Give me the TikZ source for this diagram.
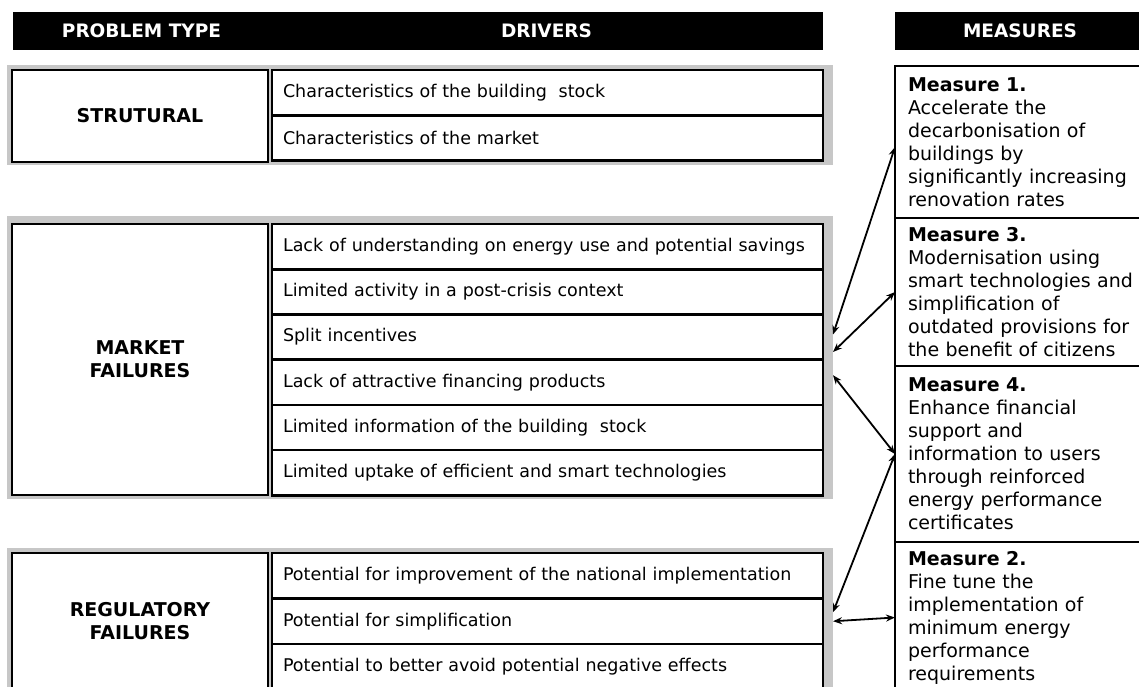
\documentclass[tikz,border=0pt]{standalone}
\usepackage{fontspec}
\setmainfont{DejaVu Sans}
\usetikzlibrary{positioning,calc,arrows.meta,backgrounds}
\tikzset{>={Stealth[length=9pt,width=7pt]}}
\tikzset{
  headbar/.style={fill=black,text=white,font=\fontsize{18.5}{22}\selectfont\bfseries,
    minimum height=38pt,inner sep=0pt,outer sep=0pt,anchor=north west},
  typebox/.style={draw,fill=white,line width=2.6pt,minimum width=256pt,inner sep=0pt,outer sep=0pt,
    align=center,font=\fontsize{19}{23}\selectfont\bfseries,anchor=north west},
  driver/.style={draw,fill=white,line width=2.6pt,minimum height=45.2pt,text width=529pt,
    inner xsep=11pt,inner ysep=0pt,outer sep=0pt,align=left,font=\fontsize{17.5}{21}\selectfont},
  measure/.style={draw,fill=white,line width=1.4pt,text width=225pt,inner xsep=13pt,inner ysep=0pt,
    outer sep=0pt,align=left,font=\fontsize{19}{23}\selectfont},
  groupbg/.style={fill=black!22},
  link/.style={<->,line width=1.8pt}
}
\begin{document}
\begin{tikzpicture}[x=1pt,y=-1pt]
\useasboundingbox (0,0) rectangle (1139,686);
\clip (0,0) rectangle (1139,686);
% column heads
\node[headbar,minimum width=257pt] (hprob) at (13,12) {PROBLEM TYPE};
\node[headbar,minimum width=553pt,right=0pt of hprob] (hdrv) {DRIVERS};
\node[headbar,minimum width=250pt] (hmeas) at (895,12) {MEASURES};
% structural
\node[typebox,minimum height=92pt] (strbox) at (12,70) {STRUTURAL};
\node[driver,anchor=north west] (sd1) at (272,70) {Characteristics of the building\ \ stock};
\node[driver,below=0pt of sd1] (sd2) {Characteristics of the market};
% market failures
\node[typebox,minimum height=271pt] (mktbox) at (12,224) {MARKET\\FAILURES};
\node[driver,anchor=north west] (md1) at (272,224) {Lack of understanding on energy use and potential savings};
\node[driver,below=0pt of md1] (md2) {Limited activity in a post-crisis context};
\node[driver,below=0pt of md2] (md3) {Split incentives};
\node[driver,below=0pt of md3] (md4) {Lack of attractive financing products};
\node[driver,below=0pt of md4] (md5) {Limited information of the building\ \ stock};
\node[driver,below=0pt of md5] (md6) {Limited uptake of efficient and smart technologies};
% regulatory failures
\node[typebox,minimum height=137pt] (regbox) at (12,553) {REGULATORY\\FAILURES};
\node[driver,anchor=north west,minimum height=45.5pt] (rd1) at (272,553) {Potential for improvement of the national implementation};
\node[driver,below=0pt of rd1,minimum height=45.5pt] (rd2) {Potential for simplification};
\node[driver,below=0pt of rd2,minimum height=45.5pt] (rd3) {Potential to better avoid potential negative effects};
% grey frames
\begin{scope}[on background layer]
\fill[groupbg] ($(strbox.north west)+(-5,-5)$) rectangle ($(sd2.south east)+(10,5)$);
\fill[groupbg] ($(mktbox.north west)+(-5,-8)$) rectangle ($(md6.south east)+(10,4)$);
\fill[groupbg] ($(regbox.north west)+(-5,-5)$) rectangle ($(rd3.south east)+(10,5)$);
\end{scope}
% measures
\node[measure,anchor=north west,minimum height=152pt] (m1) at (895,66)
  {\textbf{Measure 1.}\\Accelerate the\\decarbonisation of\\buildings by\\significantly increasing\\renovation rates};
\node[measure,below=0pt of m1,minimum height=148pt] (m3)
  {\textbf{Measure 3.}\\Modernisation using\\smart technologies and\\simplification of\\outdated provisions for\\the benefit of citizens};
\node[measure,below=0pt of m3,minimum height=176pt] (m4)
  {\textbf{Measure 4.}\\Enhance financial\\support and\\information to users\\through reinforced\\energy performance\\certificates};
\node[measure,below=0pt of m4,minimum height=151pt] (m2)
  {\textbf{Measure 2.}\\Fine tune the\\implementation of\\minimum energy\\performance\\requirements};
% links
\draw[link] ([yshift=-5pt]m1.west) -- ([xshift=10pt,yshift=2.5pt]md3.east);
\draw[link] (m3.west) -- ([xshift=10pt,yshift=-15pt]md3.east);
\draw[link] (m4.west) -- ([xshift=10pt,yshift=7pt]md4.east);
\draw[link] (m4.west) -- ([xshift=10pt,yshift=9pt]rd2.east);
\draw[link] (m2.west) -- ([xshift=10pt]rd2.east);
\end{tikzpicture}
\end{document}
